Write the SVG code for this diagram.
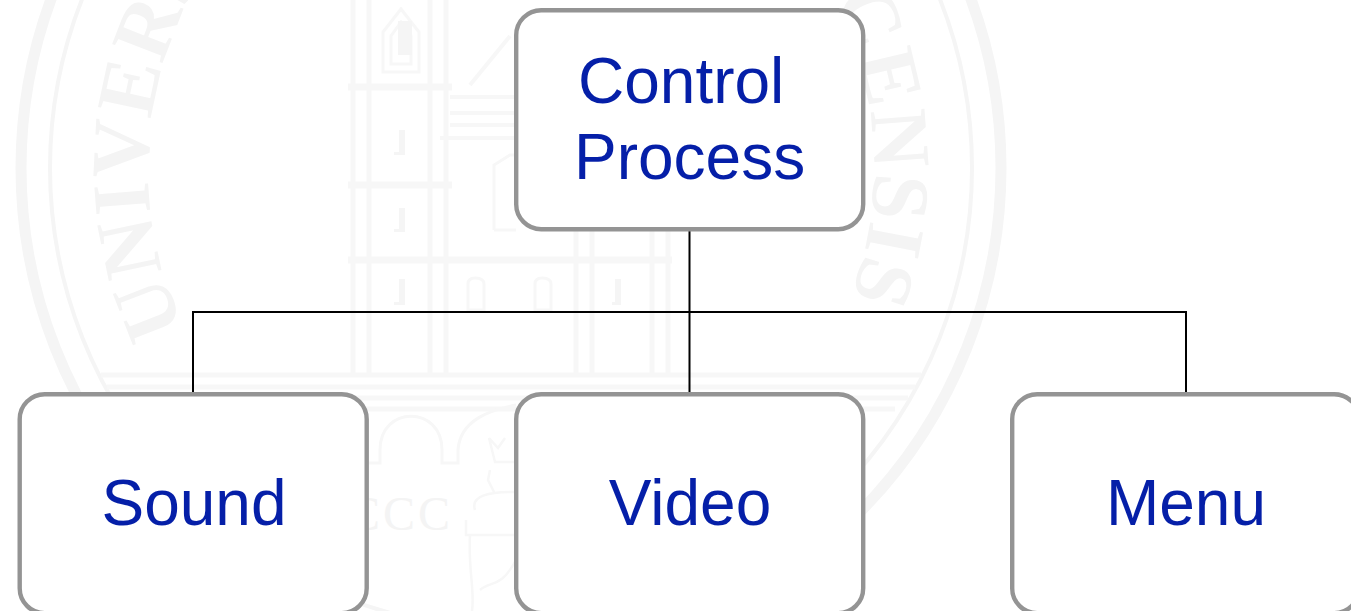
<svg xmlns="http://www.w3.org/2000/svg" width="1351" height="611" viewBox="0 0 1351 611">
  <style>
    .seal { fill: none; stroke: #f5f5f5; stroke-linecap: butt; }
    .bld { fill: none; stroke: #f7f7f7; stroke-linecap: butt; }
    .sf { fill: #f5f5f5; stroke: none; }
    .st { fill: #f4f4f4; font-family: "Liberation Serif", serif; font-size: 82px; font-weight: bold; }
    .box { fill: #ffffff; stroke: #949494; stroke-width: 4.4; }
    .lbl { fill: #051fa8; font-family: "Liberation Sans", Arial, sans-serif; font-size: 64px; }
    .mid { text-anchor: middle; }
    .link { fill: none; stroke: #000000; stroke-width: 2; }
  </style>
  <defs>
    <path id="arcL" d="M511 531A363 363 0 0 1 511 -195"/>
    <path id="arcR" d="M511 -195A363 363 0 0 1 511 531"/>
  </defs>
  <rect width="1351" height="611" fill="#ffffff"/>
  <g id="watermark">
    <circle class="seal" cx="511" cy="168" r="490" stroke-width="11"/>
    <circle class="seal" cx="511" cy="168" r="461" stroke-width="4"/>
    <text class="st" letter-spacing="1"><textPath href="#arcL" startOffset="405">UNIVERS</textPath></text>
    <text class="st" letter-spacing="2"><textPath href="#arcR" startOffset="395">CENSIS</textPath></text>
    <g class="bld" stroke-width="5">
      <path d="M101 375H921M107 387H915M114 398H908M121 409H895"/>
      <path d="M353 0V375M369 0V375M430 0V375M446 0V375M576 230V375M592 230V375M652 230V375M668 230V375" stroke-width="5"/>
      <path d="M348 87H452M348 185H452M348 260H672" stroke-width="7"/>
      <path d="M450 97H515M450 113H515M450 125H515M440 138H515" stroke-width="4"/>
      <path d="M470 85L510 36" stroke-width="4"/>
      <path d="M383 72V32L401 9L419 32V72ZM391 64V36L401 22L411 36V64Z" stroke-width="3"/>
      <path d="M494 230V165L510 155H516M494 230H516" stroke-width="3"/>
    </g>
    <path class="sf" d="M398 21H412V55H398ZM399 130H405V155H394V152H399ZM399 208H405V232H394V229H399ZM399 279H405V305H394V302H399ZM615 279H621V305H612V302H615Z"/>
    <path class="bld" stroke-width="3" d="M468 310V284Q468 278 475 278Q484 278 484 284V310ZM535 310V284Q535 278 542 278Q551 278 551 284V310Z"/>
    <path class="bld" stroke-width="3" d="M367 463H380V450C380 405 442 405 442 450V463H458V450C460 420 490 410 516 405"/>
    <text x="348" y="530" fill="#f4f4f4" font-family="Liberation Serif, serif" font-size="48" letter-spacing="3">CCC</text>
    <path class="bld" stroke-width="2.5" d="M489 438L495 462H516M489 438L498 448L505 438M490 470L488 480L495 494M475 510C470 495 490 492 516 492M466 520V535H516M470 535C468 570 475 590 472 611M516 560C500 590 490 580 480 590"/>
  </g>
  <g id="connectors">
    <path class="link" d="M689.5 231V392M193 392V312H1186V392"/>
  </g>
  <g id="control-process">
    <rect class="box" x="516.2" y="10.2" width="347" height="219" rx="25"/>
    <text class="lbl" x="578" y="103">Control</text>
    <text class="lbl" x="574" y="179">Process</text>
  </g>
  <g id="sound">
    <rect class="box" x="19.7" y="394.2" width="347" height="219" rx="25"/>
    <text class="lbl mid" x="194" y="525">Sound</text>
  </g>
  <g id="video">
    <rect class="box" x="516.2" y="394.2" width="347" height="219" rx="25"/>
    <text class="lbl mid" x="690" y="525">Video</text>
  </g>
  <g id="menu">
    <rect class="box" x="1012.2" y="394.2" width="347" height="219" rx="25"/>
    <text class="lbl mid" x="1186" y="525">Menu</text>
  </g>
</svg>
